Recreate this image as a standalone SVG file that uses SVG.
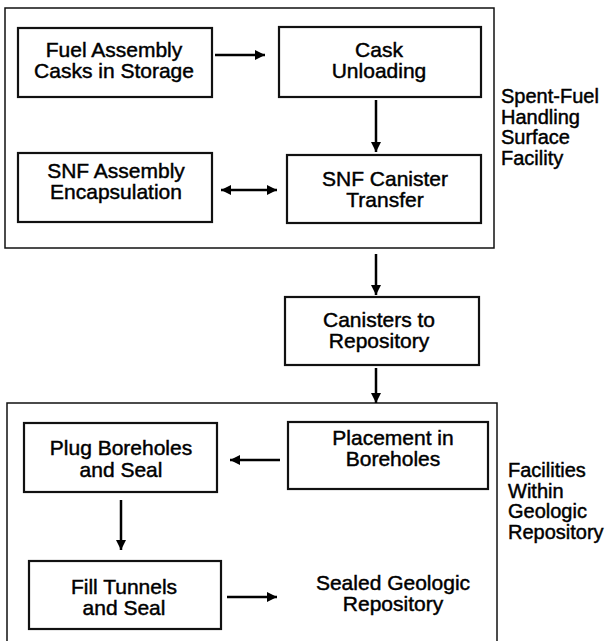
<svg xmlns="http://www.w3.org/2000/svg" width="611" height="641" viewBox="0 0 611 641">
<defs>
<marker id="ah" viewBox="0 0 10 10" refX="10" refY="5" markerWidth="4" markerHeight="4" orient="auto-start-reverse" markerUnits="strokeWidth">
<path d="M0,0 L10,5 L0,10 Z" fill="#000"/>
</marker>
</defs>
<style>
.frame{fill:none;stroke:#111;stroke-width:1.5}
.box{fill:#fff;stroke:#111;stroke-width:2.2}
.t{font-family:"Liberation Sans",Arial,Helvetica,sans-serif;font-size:21px;fill:#000;stroke:#000;stroke-width:0.45;text-anchor:middle}
.s{font-family:"Liberation Sans",Arial,Helvetica,sans-serif;font-size:20px;fill:#000;stroke:#000;stroke-width:0.45;text-anchor:start}
.c{fill:none;stroke:#000;stroke-width:2.5}
</style>
<rect width="611" height="641" fill="#fff"/>
<g id="surface-facility">
<rect class="frame" x="5" y="8" width="489" height="240"/>
<text class="s" x="501"><tspan x="501" y="103">Spent-Fuel</tspan><tspan x="501" y="123.5">Handling</tspan><tspan x="501" y="144">Surface</tspan><tspan x="501" y="164.5">Facility</tspan></text>
</g>
<g id="geologic-repository">
<rect class="frame" x="7" y="403" width="490" height="250"/>
<text class="s" x="508"><tspan x="508" y="477">Facilities</tspan><tspan x="508" y="497.5">Within</tspan><tspan x="508" y="518">Geologic</tspan><tspan x="508" y="538.5">Repository</tspan></text>
</g>
<g id="fuel-assembly-casks">
<rect class="box" x="18" y="28" width="194" height="69"/>
<text class="t" x="114"><tspan x="114" y="57">Fuel Assembly</tspan><tspan x="114" y="78">Casks in Storage</tspan></text>
</g>
<g id="cask-unloading">
<rect class="box" x="279" y="27" width="202" height="70"/>
<text class="t" x="379"><tspan x="379" y="57">Cask</tspan><tspan x="379" y="78">Unloading</tspan></text>
</g>
<g id="snf-assembly-encapsulation">
<rect class="box" x="18" y="153" width="194" height="69"/>
<text class="t" x="116"><tspan x="116" y="178">SNF Assembly</tspan><tspan x="116" y="199">Encapsulation</tspan></text>
</g>
<g id="snf-canister-transfer">
<rect class="box" x="287" y="155" width="194" height="68"/>
<text class="t" x="385"><tspan x="385" y="186">SNF Canister</tspan><tspan x="385" y="207">Transfer</tspan></text>
</g>
<g id="canisters-to-repository">
<rect class="box" x="285" y="297" width="194" height="68"/>
<text class="t" x="379"><tspan x="379" y="327">Canisters to</tspan><tspan x="379" y="348">Repository</tspan></text>
</g>
<g id="placement-in-boreholes">
<rect class="box" x="288" y="422" width="200" height="67"/>
<text class="t" x="393"><tspan x="393" y="445">Placement in</tspan><tspan x="393" y="466">Boreholes</tspan></text>
</g>
<g id="plug-boreholes">
<rect class="box" x="24" y="423" width="193" height="69"/>
<text class="t" x="121"><tspan x="121" y="455">Plug Boreholes</tspan><tspan x="121" y="477">and Seal</tspan></text>
</g>
<g id="fill-tunnels">
<rect class="box" x="29" y="561" width="192" height="68"/>
<text class="t" x="124"><tspan x="124" y="594">Fill Tunnels</tspan><tspan x="124" y="615">and Seal</tspan></text>
</g>
<g id="sealed-geologic-repository">
<text class="t" x="393"><tspan x="393" y="590">Sealed Geologic</tspan><tspan x="393" y="611">Repository</tspan></text>
</g>
<g id="connectors">
<line class="c" x1="215" y1="55" x2="265" y2="55" marker-end="url(#ah)"/>
<line class="c" x1="376" y1="100" x2="376" y2="152" marker-end="url(#ah)"/>
<line class="c" x1="221" y1="190" x2="277" y2="190" marker-start="url(#ah)" marker-end="url(#ah)"/>
<line class="c" x1="376" y1="254" x2="376" y2="295" marker-end="url(#ah)"/>
<line class="c" x1="376" y1="368" x2="376" y2="403" marker-end="url(#ah)"/>
<line class="c" x1="280" y1="460" x2="230" y2="460" marker-end="url(#ah)"/>
<line class="c" x1="121" y1="500" x2="121" y2="550" marker-end="url(#ah)"/>
<line class="c" x1="227" y1="597" x2="277" y2="597" marker-end="url(#ah)"/>
</g>
</svg>
